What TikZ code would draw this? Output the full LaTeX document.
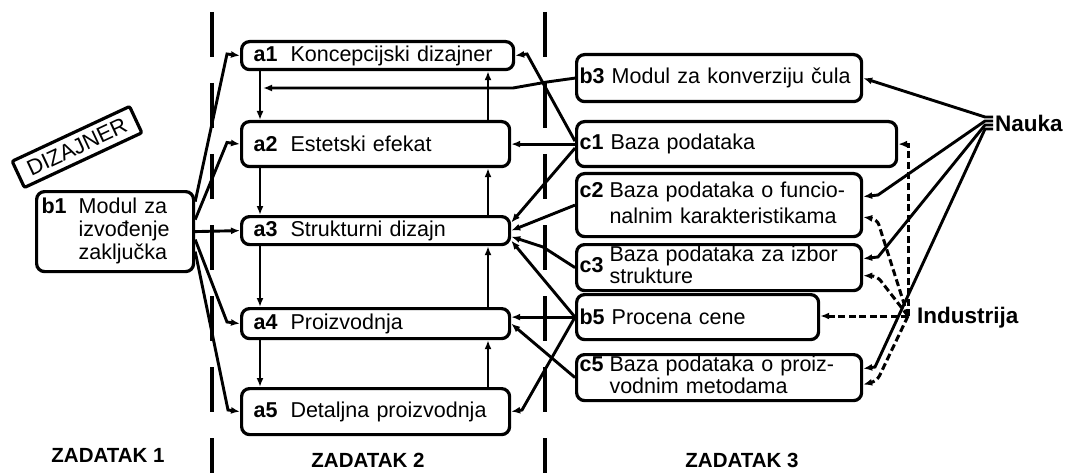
\documentclass[tikz,border=0pt]{standalone}
\usepackage{fontspec}
\setmainfont{Liberation Sans}
\usetikzlibrary{arrows.meta,calc}

\newcommand{\boxlabel}[2][13pt]{\textbf{#2}\hspace{#1}}

\begin{document}
\begin{tikzpicture}[
    x=1pt,y=1pt,
    abox/.style={draw,line width=3.2pt,rounded corners=8pt,anchor=north west,inner xsep=12pt,inner ysep=0pt,text width=244pt,align=left,font={\fontsize{21.5}{23}\selectfont}},
    cbox/.style={abox,inner xsep=3pt,text width=279pt},
    conn/.style={->,line width=2.9pt},
    dconn/.style={->,line width=3pt,dash pattern=on 7pt off 3.5pt},
    sep/.style={line width=4.6pt,dash pattern=on 45pt off 26pt},
    title/.style={font={\fontsize{20.5}{24}\selectfont\bfseries}},
    src/.style={anchor=west,inner sep=0pt,font={\fontsize{22.5}{26}\selectfont\bfseries}},
    >={Latex[length=9pt,width=7pt]}
]
\useasboundingbox (0,0) rectangle (1067,-473);

\draw[sep] (212,-12) -- (212,-473);
\draw[sep] (545,-12) -- (545,-473);

\node[abox,minimum height=28pt,text width=248pt] (a1) at (240,-40) {\boxlabel{a1}Koncepcijski dizajner};
\node[abox,minimum height=45pt] (a2) at (240,-120) {\boxlabel{a2}Estetski efekat};
\node[abox,minimum height=28pt] (a3) at (240,-215) {\boxlabel{a3}Strukturni dizajn};
\node[abox,minimum height=30pt] (a4) at (240,-307) {\boxlabel{a4}Proizvodnja};
\node[abox,minimum height=46pt] (a5) at (240,-387) {\boxlabel{a5}Detaljna proizvodnja};

\node[abox,inner xsep=5pt,text width=147pt,minimum height=80pt] (b1) at (35,-190) {\boxlabel[12pt]{b1}\begin{tabular}[t]{@{}l@{}}Modul za\\izvođenje\\zaključka\end{tabular}};
\node[draw,line width=3.2pt,rounded corners=2pt,rotate=25,inner xsep=11pt,minimum height=29pt,font={\fontsize{22}{24}\selectfont}] (dizajner) at (77,-147) {DIZAJNER};

\node[cbox,minimum height=47pt] (b3) at (575,-53) {\boxlabel[7pt]{b3}Modul za konverziju čula};
\node[cbox,minimum height=45pt,text width=314pt] (c1) at (575,-120) {\boxlabel[7pt]{c1}Baza podataka};
\node[cbox,minimum height=63pt,font={\fontsize{21.5}{26}\selectfont}] (c2) at (575,-172) {\boxlabel[6pt]{c2}\begin{tabular}[t]{@{}l@{}}Baza podataka o funcio-\\nalnim karakteristikama\end{tabular}};
\node[cbox,minimum height=46pt,font={\fontsize{21.5}{20}\selectfont}] (c3) at (575,-243) {\boxlabel[6pt]{c3}\begin{tabular}[c]{@{}l@{}}Baza podataka za izbor\\strukture\end{tabular}};
\node[cbox,minimum height=45pt,text width=236pt] (b5) at (575,-293) {\boxlabel[7pt]{b5}Procena cene};
\node[cbox,minimum height=46pt,font={\fontsize{21.5}{22}\selectfont}] (c5) at (575,-353) {\boxlabel[6pt]{c5}\begin{tabular}[t]{@{}l@{}}Baza podataka o proiz-\\vodnim metodama\end{tabular}};

\node[src] (nauka) at (995,-123) {Nauka};
\node[src] (industrija) at (917,-318) {Industrija};
\coordinate (ind) at ([xshift=-9pt,yshift=2pt]industrija.west);
\coordinate (fb) at (263,-88);

\draw[conn] ([yshift=30pt]b1.east) -- (227,-54) -- (a1.west);
\draw[conn] ([yshift=12pt]b1.east) -- (227,-142.5) -- (a2.west);
\draw[conn] (b1.east) -- (a3.west);
\draw[conn] ([yshift=-8pt]b1.east) -- (227,-322) -- (a4.west);
\draw[conn] ([yshift=-20pt]b1.east) -- (228,-410) -- (a5.west);

\draw[conn] ([xshift=20pt]a1.south west) -- ([xshift=20pt]a2.north west);
\draw[conn] ([xshift=20pt]a2.south west) -- ([xshift=20pt]a3.north west);
\draw[conn] ([xshift=20pt]a3.south west) -- ([xshift=20pt]a4.north west);
\draw[conn] ([xshift=20pt]a4.south west) -- ([xshift=20pt]a5.north west);
\draw[conn] ([xshift=248pt]a2.north west) -- ([xshift=248pt]a1.south west);
\draw[conn] ([xshift=248pt]a3.north west) -- ([xshift=248pt]a2.south west);
\draw[conn] ([xshift=248pt]a4.north west) -- ([xshift=248pt]a3.south west);
\draw[conn] ([xshift=248pt]a5.north west) -- ([xshift=248pt]a4.south west);

\draw[conn] (b3.west) -- (547,-82) -- (513,-88) -- (fb);
\draw[conn] ([yshift=3pt]c1.west) -- (527,-54) -- (a1.east);
\draw[conn] (c1.west) -- (a2.east);
\draw[conn] ([yshift=-4pt]c1.west) -- ([yshift=8pt]a3.east);
\draw[conn] (c2.west) -- (a3.east);
\draw[conn] (c3.west) -- (543,-247) -- ([yshift=-6pt]a3.east);
\draw[conn] (b5.west) -- ([yshift=-10pt]a3.east);
\draw[conn] (b5.west) -- (b5.west -| a4.east);
\draw[conn] (c5.west) -- (a4.east);
\draw[conn] (b5.west) -- (522,-410) -- (a5.east);

\draw[conn] ([xshift=-2pt,yshift=6pt]nauka.west) -- ++(-8,0) -- (b3.east);
\draw[conn] ([xshift=-2pt,yshift=2pt]nauka.west) -- ++(-8,0) -- (878,-195) -- ([yshift=8.5pt]c2.east);
\draw[conn] ([xshift=-2pt,yshift=-2pt]nauka.west) -- ++(-8,0) -- (878,-257) -- ([yshift=9pt]c3.east);
\draw[conn] ([xshift=-2pt,yshift=-6pt]nauka.west) -- ++(-8,0) -- (875,-367) -- ([yshift=9pt]c5.east);

\draw[dconn] (ind) -- (ind |- c1.east) -- (c1.east);
\draw[dconn,rounded corners=6pt] (ind) -- (877,-219) -- ([yshift=-12pt]c2.east);
\draw[dconn,rounded corners=6pt] (ind) -- (877,-276) -- ([yshift=-8pt]c3.east);
\draw[dconn] (ind) -- (ind -| b5.east);
\draw[dconn,rounded corners=6pt] (ind) -- (877,-381) -- ([yshift=-7pt]c5.east);

\node[title] (z1) at (108,-455) {ZADATAK 1};
\node[title] (z2) at (368,-460) {ZADATAK 2};
\node[title] (z3) at (742,-460) {ZADATAK 3};
\end{tikzpicture}
\end{document}
